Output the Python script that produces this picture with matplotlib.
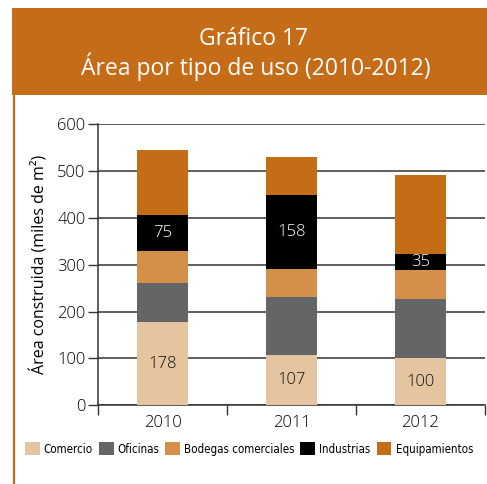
import matplotlib
matplotlib.use("Agg")
import matplotlib.pyplot as plt
from matplotlib.patches import Rectangle, Patch
from matplotlib.lines import Line2D

years = ["2010", "2011", "2012"]
series_names = ["Comercio", "Oficinas", "Bodegas comerciales", "Industrias", "Equipamientos"]
comercio = [178, 107, 100]
oficinas = [82, 124, 126]
bodegas = [70, 60, 62]
industrias = [75, 158, 35]
equipamientos = [140, 80, 168]
yticks = [0, 100, 200, 300, 400, 500, 600]

colors = ["#E5C4A0", "#646566", "#D4904B", "#000000", "#C46C16"]
series = [comercio, oficinas, bodegas, industrias, equipamientos]

plt.rcParams['font.family'] = ['Open Sans', 'DejaVu Sans']
plt.rcParams['font.weight'] = 'light'

W, H = 487, 484
fig = plt.figure(figsize=(W / 100, H / 100), dpi=100)

# header band
fig.patches.append(Rectangle((12 / W, 1 - 95 / H), (W - 12) / W, 87 / H,
                             transform=fig.transFigure, facecolor="#C46C17",
                             edgecolor="none", zorder=0))
fig.lines.append(Line2D([13.5 / W, 13.5 / W], [0, 1 - 95 / H], transform=fig.transFigure,
                        color="#C46C17", lw=1.6))
fig.text(254 / W, 1 - 39 / H, "Gráfico 17", ha="center", va="center",
         color="white", fontsize=16.5, fontweight="normal")
fig.text(256 / W, 1 - 67 / H, "Área por tipo de uso (2010-2012)", ha="center",
         va="center", color="white", fontsize=16.5, fontweight="normal")

ax = fig.add_axes([98 / W, 1 - 405.3 / H, (485 - 98) / W, (405.3 - 124) / H])
x = list(range(len(years)))
bottom = [0] * len(years)
for name, vals, c in zip(series_names, series, colors):
    ax.bar(x, vals, bottom=bottom, width=0.4, color=c, label=name, zorder=3)
    bottom = [b + v for b, v in zip(bottom, vals)]

# value labels
def lab(vals, base, color):
    for i, v in enumerate(vals):
        ax.text(x[i], base[i] + v / 2, str(v), ha="center", va="center",
                color=color, fontsize=12, fontweight="light", zorder=4)

lab(comercio, [0, 0, 0], "#111111")
base_ind = [c + o + b for c, o, b in zip(comercio, oficinas, bodegas)]
lab(industrias, base_ind, "white")

ax.set_ylim(0, 600)
ax.set_xlim(-0.5, 2.5)
ax.set_yticks(yticks)
ax.set_xticks(x)
ax.set_xticklabels(years)
ax.set_xticks([-0.5, 0.5, 1.5, 2.5], minor=True)
ax.tick_params(axis="x", which="major", length=0, pad=7, labelsize=12)
ax.tick_params(axis="x", which="minor", length=7, width=1, color="#333333")
ax.tick_params(axis="y", length=7, width=1, color="#333333", labelsize=12, pad=2)
ax.grid(axis="y", color="#333333", lw=1.1, zorder=1)
for s in ["top", "right"]:
    ax.spines[s].set_visible(False)
for s in ["left", "bottom"]:
    ax.spines[s].set_color("#333333")
    ax.spines[s].set_linewidth(1.1)
ax.set_ylabel("Área construida (miles de m²)", fontsize=11.5, labelpad=6)

handles = [Patch(facecolor=c, edgecolor="none") for c in colors]
leg = fig.legend(handles, series_names, loc="center left",
                 bbox_to_anchor=(20 / W, 1 - 449 / H), ncol=5, frameon=False,
                 handlelength=1.3, handleheight=1.3, handletextpad=0.35,
                 columnspacing=0.5, borderaxespad=0,
                 prop={"family": "DejaVu Sans", "stretch": "condensed", "size": 8.3})

fig.savefig("out.png", dpi=100)
